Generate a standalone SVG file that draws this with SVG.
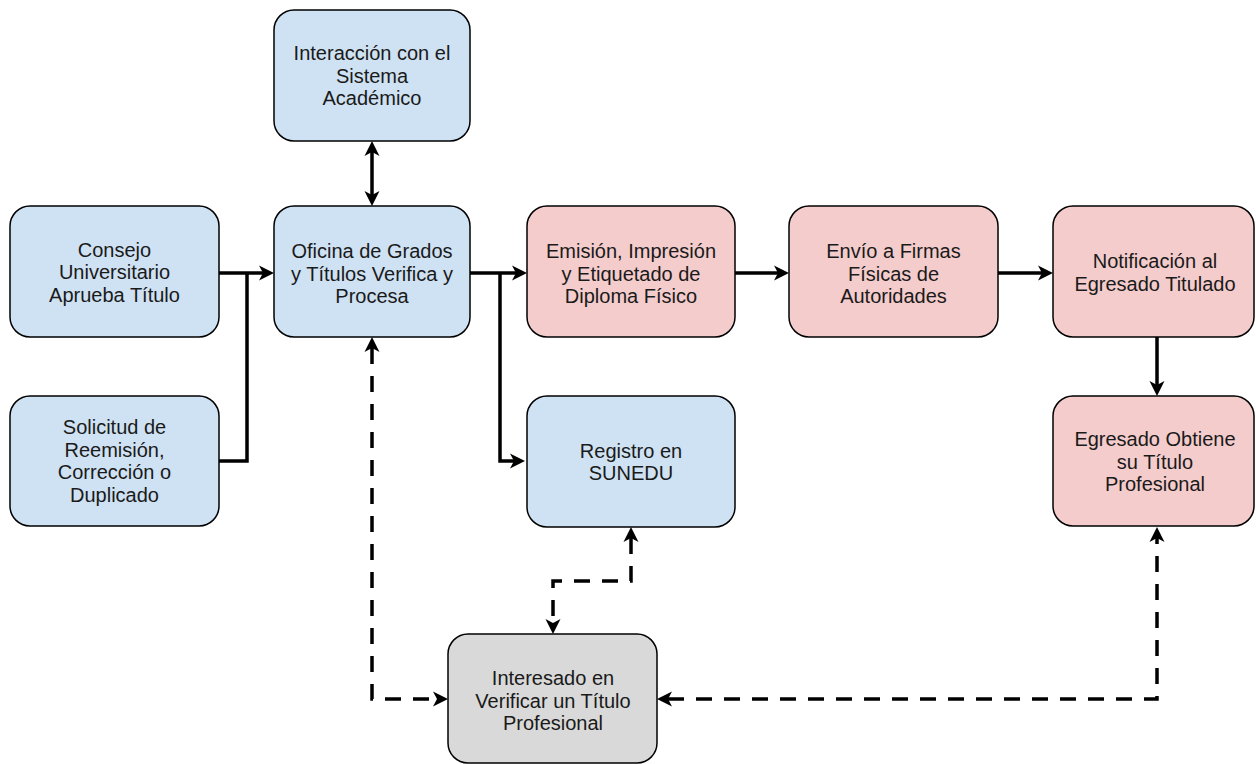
<svg xmlns="http://www.w3.org/2000/svg" width="1256" height="764" viewBox="0 0 1256 764">
  <style>
    .box { stroke: #000; stroke-width: 1.5; }
    .blue { fill: #CFE2F3; }
    .pink { fill: #F4CCCC; }
    .gray { fill: #D9D9D9; }
    .lbl { font-family: "Liberation Sans", Arial, sans-serif; font-size: 20px; fill: #1a1a1a; text-anchor: middle; }
    .link { fill: none; stroke: #000; stroke-width: 3.5; }
    .dash { stroke-dasharray: 16 12; }
  </style>
  <defs>
    <!-- classic notched arrowhead; refX sits on the notch so the tip lands 11px past the path end -->
    <marker id="arrow" viewBox="0 -8 15 16" markerWidth="15" markerHeight="16" refX="4" refY="0" markerUnits="userSpaceOnUse" orient="auto-start-reverse">
      <path d="M0,-7.5 L15,0 L0,7.5 L4,0 Z" fill="#000"/>
    </marker>
  </defs>

  <g id="connectors">
    <path class="link" d="M219,273 H263" marker-end="url(#arrow)"/>
    <path class="link" d="M219,461 H247 V273"/>
    <path class="link" d="M372,152 V195" marker-start="url(#arrow)" marker-end="url(#arrow)"/>
    <path class="link" d="M470,273 H516" marker-end="url(#arrow)"/>
    <path class="link" d="M500,273 V461 H514" marker-end="url(#arrow)"/>
    <path class="link" d="M735,273 H778" marker-end="url(#arrow)"/>
    <path class="link" d="M998,273 H1042" marker-end="url(#arrow)"/>
    <path class="link" d="M1157,337 V385" marker-end="url(#arrow)"/>
    <path class="link dash" d="M372,348 V699 H437" marker-start="url(#arrow)" marker-end="url(#arrow)"/>
    <path class="link dash" d="M631,538 V581 H553 V623" marker-start="url(#arrow)" marker-end="url(#arrow)"/>
    <path class="link dash" d="M668,699 H1157 V538" marker-start="url(#arrow)" marker-end="url(#arrow)"/>
  </g>

  <g id="interaccion">
    <rect class="box blue" x="274" y="10" width="196" height="131" rx="20"/>
    <text class="lbl" x="372" y="60">Interacción con el</text>
    <text class="lbl" x="372" y="82.5">Sistema</text>
    <text class="lbl" x="372" y="105">Académico</text>
  </g>

  <g id="consejo">
    <rect class="box blue" x="10" y="206" width="209" height="131" rx="20"/>
    <text class="lbl" x="114.5" y="256.5">Consejo</text>
    <text class="lbl" x="114.5" y="279">Universitario</text>
    <text class="lbl" x="114.5" y="301.5">Aprueba Título</text>
  </g>

  <g id="oficina">
    <rect class="box blue" x="274" y="206" width="196" height="131" rx="20"/>
    <text class="lbl" x="372" y="258">Oficina de Grados</text>
    <text class="lbl" x="372" y="280.5">y Títulos Verifica y</text>
    <text class="lbl" x="372" y="303">Procesa</text>
  </g>

  <g id="emision">
    <rect class="box pink" x="527" y="206" width="208" height="131" rx="20"/>
    <text class="lbl" x="631" y="258">Emisión, Impresión</text>
    <text class="lbl" x="631" y="280.5">y Etiquetado de</text>
    <text class="lbl" x="631" y="303">Diploma Físico</text>
  </g>

  <g id="envio">
    <rect class="box pink" x="789" y="206" width="209" height="131" rx="20"/>
    <text class="lbl" x="893.5" y="258">Envío a Firmas</text>
    <text class="lbl" x="893.5" y="280.5">Físicas de</text>
    <text class="lbl" x="893.5" y="303">Autoridades</text>
  </g>

  <g id="notificacion">
    <rect class="box pink" x="1053" y="206" width="201" height="131" rx="20"/>
    <text class="lbl" x="1155" y="268">Notificación al</text>
    <text class="lbl" x="1155" y="290.5">Egresado Titulado</text>
  </g>

  <g id="solicitud">
    <rect class="box blue" x="10" y="396" width="209" height="130" rx="20"/>
    <text class="lbl" x="114.5" y="434">Solicitud de</text>
    <text class="lbl" x="114.5" y="456.5">Reemisión,</text>
    <text class="lbl" x="114.5" y="479">Corrección o</text>
    <text class="lbl" x="114.5" y="501.5">Duplicado</text>
  </g>

  <g id="registro">
    <rect class="box blue" x="527" y="396" width="208" height="131" rx="20"/>
    <text class="lbl" x="631" y="457.5">Registro en</text>
    <text class="lbl" x="631" y="480">SUNEDU</text>
  </g>

  <g id="egresado">
    <rect class="box pink" x="1053" y="396" width="201" height="130" rx="20"/>
    <text class="lbl" x="1155" y="446">Egresado Obtiene</text>
    <text class="lbl" x="1155" y="468.5">su Título</text>
    <text class="lbl" x="1155" y="491">Profesional</text>
  </g>

  <g id="interesado">
    <rect class="box gray" x="448" y="634" width="209" height="129" rx="20"/>
    <text class="lbl" x="553" y="685">Interesado en</text>
    <text class="lbl" x="553" y="707.5">Verificar un Título</text>
    <text class="lbl" x="553" y="730">Profesional</text>
  </g>
</svg>
